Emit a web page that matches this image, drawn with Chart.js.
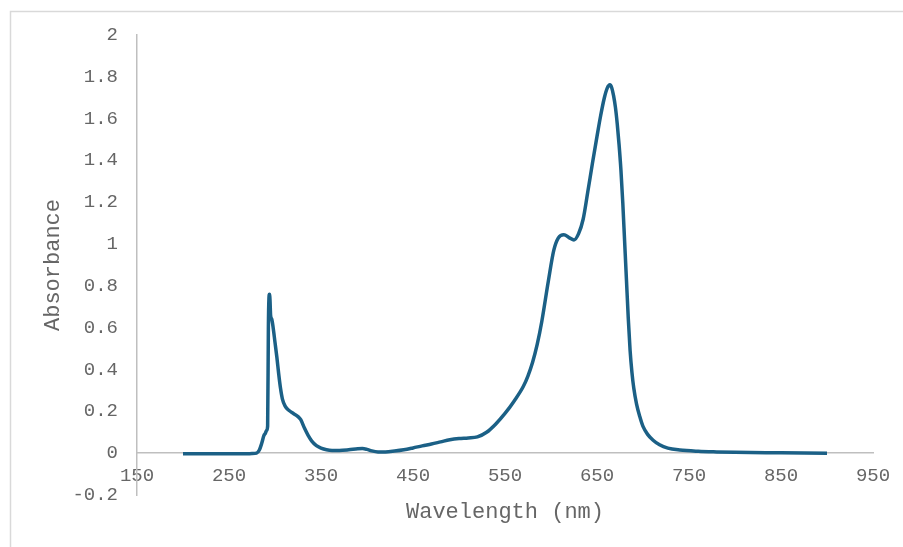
<!DOCTYPE html>
<html>
<head>
<meta charset="utf-8">
<script src="https://cdn.jsdelivr.net/npm/chart.js@4.4.1/dist/chart.umd.min.js"></script>
<style>
  body { margin: 0; background: #fff; }
  #wrap { width: 903px; height: 547px; }
</style>
</head>
<body>
<div id="wrap"><canvas id="spectrumChart" width="903" height="547"></canvas></div>
<script>
// wavelength (nm) and absorbance
const wavelengths = [200, 220, 240, 260, 275, 280, 283, 285.5, 288, 289.5, 291, 292, 292.8, 293.4, 294, 294.6, 295.2, 296.5, 298, 300, 302, 304, 306, 308, 311, 315, 320, 325, 328, 332, 336, 340, 345, 350, 356, 362, 370, 380, 390, 395, 400, 405, 412, 420, 430, 440, 450, 460, 470, 480, 490, 500, 510, 520, 530, 540, 550, 560, 570, 575, 580, 585, 590, 597, 603, 608, 614, 620, 625, 630, 635, 640, 645, 650, 654, 658, 661, 664, 666, 668, 670, 672, 674, 676, 678, 680, 682, 684, 686, 688, 690, 693, 696.5, 700, 705, 711, 718, 727, 740, 760, 780, 800, 850, 900];
const absorbance = [-0.003, -0.003, -0.003, -0.003, -0.002, 0.0, 0.015, 0.046, 0.085, 0.095, 0.11, 0.13, 0.60, 0.74, 0.76, 0.73, 0.66, 0.64, 0.60, 0.53, 0.46, 0.38, 0.31, 0.26, 0.225, 0.205, 0.19, 0.175, 0.16, 0.12, 0.085, 0.058, 0.036, 0.024, 0.016, 0.013, 0.013, 0.016, 0.021, 0.022, 0.018, 0.011, 0.006, 0.006, 0.01, 0.016, 0.025, 0.035, 0.044, 0.054, 0.064, 0.07, 0.073, 0.078, 0.1, 0.14, 0.19, 0.25, 0.32, 0.37, 0.435, 0.52, 0.63, 0.82, 0.97, 1.03, 1.045, 1.03, 1.02, 1.05, 1.12, 1.25, 1.385, 1.515, 1.615, 1.70, 1.745, 1.762, 1.748, 1.71, 1.655, 1.575, 1.475, 1.355, 1.20, 1.015, 0.83, 0.645, 0.49, 0.385, 0.31, 0.235, 0.175, 0.128, 0.09, 0.062, 0.04, 0.024, 0.015, 0.009, 0.006, 0.004, 0.002, 0.0];

const xMin = 150, xMax = 950, xStep = 100;
const yMin = -0.2, yMax = 2, yStep = 0.2;

const textColor = '#666666';
const axisColor = '#bfbfbf';
const tickFont = { family: 'Liberation Mono', size: 19 };
const titleFont = { family: 'Liberation Mono', size: 22 };

const points = wavelengths.map((w, i) => ({ x: w, y: absorbance[i] }));

// thin frame along the top and left edge
const framePlugin = {
    id: 'frame',
    beforeDraw(chart) {
        const ctx = chart.ctx;
        ctx.save();
        ctx.strokeStyle = '#d9d9d9';
        ctx.lineWidth = 1.5;
        ctx.beginPath();
        ctx.moveTo(10.5, 547);
        ctx.lineTo(10.5, 11.5);
        ctx.lineTo(903, 11.5);
        ctx.stroke();
        ctx.restore();
    }
};

const ctx = document.getElementById('spectrumChart').getContext('2d');
const spectrumChart = new Chart(ctx, {
    type: 'line',
    data: {
        datasets: [{
            label: 'Absorbance',
            data: points,
            borderColor: '#1b6086',
            borderWidth: 3.5,
            pointRadius: 0,
            fill: false,
            cubicInterpolationMode: 'monotone'
        }]
    },
    options: {
        responsive: false,
        animation: false,
        layout: { padding: { left: 10, top: 35, right: 30, bottom: 0 } },
        plugins: {
            legend: { display: false },
            tooltip: { enabled: false }
        },
        scales: {
            x: {
                type: 'linear',
                position: { y: 0 },
                min: xMin,
                max: xMax,
                ticks: { stepSize: xStep, padding: 11, font: tickFont, color: textColor, maxRotation: 0, autoSkip: false },
                grid: { display: false, drawTicks: false },
                border: { color: axisColor, width: 1.5 }
            },
            xTitle: {
                type: 'linear',
                position: 'bottom',
                ticks: { display: false },
                grid: { display: false, drawTicks: false },
                border: { display: false },
                title: { display: true, text: 'Wavelength (nm)', font: titleFont, color: textColor, padding: { top: 0, bottom: 22 } },
                afterFit(scale) { scale.height = 52; }
            },
            y: {
                min: yMin,
                max: yMax,
                ticks: {
                    stepSize: yStep, padding: 19, font: tickFont, color: textColor,
                    callback: (v) => String(Number(v.toFixed(1)))
                },
                grid: { display: false, drawTicks: false },
                border: { color: axisColor, width: 1.5 },
                title: { display: true, text: 'Absorbance', font: titleFont, color: textColor, padding: { top: 30, bottom: 0 } },
                afterFit(scale) { scale.width = 127; }
            }
        }
    },
    plugins: [framePlugin]
});
</script>
</body>
</html>
